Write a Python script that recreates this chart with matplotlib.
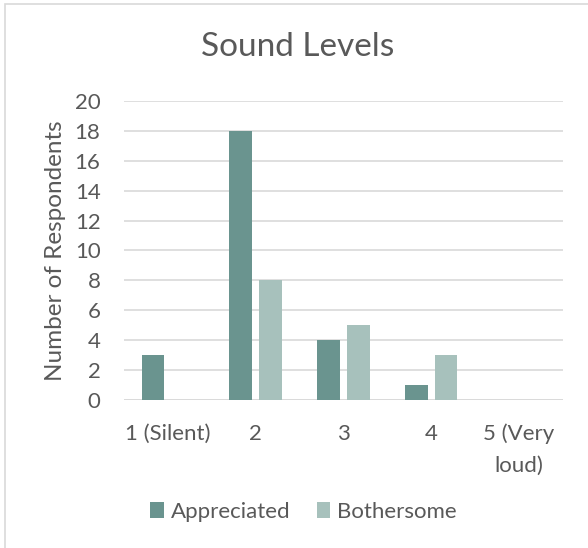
import matplotlib
matplotlib.use("Agg")
import matplotlib.pyplot as plt
import numpy as np

categories = ["1 (Silent)", "2", "3", "4", "5 (Very\nloud)"]
appreciated = [3, 18, 4, 1, 0]
bothersome = [0, 8, 5, 3, 0]

textColor = "#595959"
gridColor = "#d9d9d9"
darkTeal = "#6a948f"
lightTeal = "#a7c1bc"

plt.rcParams['font.family'] = ['Lato', 'DejaVu Sans']

fig = plt.figure(figsize=(5.88, 5.48), dpi=100)
ax = fig.add_axes([0.211, 0.270, 0.746, 0.546])

x = np.arange(len(categories))
width = 0.26
ax.bar(x - 0.17, appreciated, width, color=darkTeal, label="Appreciated", zorder=3)
ax.bar(x + 0.17, bothersome, width, color=lightTeal, label="Bothersome", zorder=3)

ax.set_xlim(-0.5, len(categories) - 0.5)
ax.set_ylim(0, 20)
ax.set_yticks(range(0, 21, 2))
ax.set_xticks(x)
ax.set_xticklabels(categories, linespacing=1.75, va="top")
ax.yaxis.grid(True, color=gridColor, linewidth=1.2, zorder=0)
for s in ax.spines.values():
	s.set_visible(False)
ax.axhline(0, color=gridColor, linewidth=1.2, zorder=2)
ax.tick_params(length=0, labelsize=16, colors=textColor)
ax.tick_params(axis="x", pad=17)
ax.tick_params(axis="y", pad=17)

ax.set_ylabel("Number of Respondents", fontsize=17.5, color=textColor)
ax.yaxis.set_label_coords(-0.132, 0.5)

fig.suptitle("Sound Levels", x=0.507, y=0.915, va="center", fontsize=24, color=textColor)

fig.legend(loc="center", bbox_to_anchor=(0.516, 0.066), ncol=2, frameon=False,
	fontsize=16, labelcolor=textColor, handlelength=0.6, handleheight=0.7,
	handletextpad=0.3, columnspacing=1.2)

# light frame round the whole figure
fig.patches.append(plt.Rectangle((0.008, -0.05), 1.1, 1.043, transform=fig.transFigure,
	fill=False, edgecolor=gridColor, linewidth=1.2))

fig.savefig("out.png", dpi=100)
